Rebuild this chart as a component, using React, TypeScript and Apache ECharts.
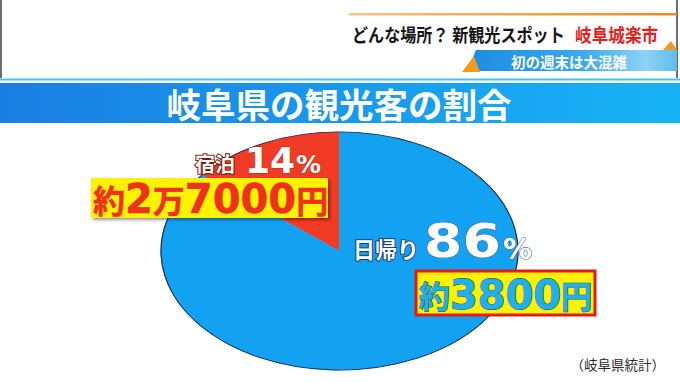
import React, { useEffect, useRef } from 'react';
import * as echarts from 'echarts';

// ---- data ----
const categories = ['宿泊', '日帰り'];
const shares = [14, 86];
const spending = ['約2万7000円', '約3800円'];
const title = '岐阜県の観光客の割合';
const headline = 'どんな場所？ 新観光スポット';
const headlinePlace = '岐阜城楽市';
const subline = '初の週末は大混雑';
const source = '（岐阜県統計）';

// ---- style / layout ----
const CJK = '"Noto Sans CJK JP", "Noto Sans CJK SC", sans-serif';
const NUM = '"DejaVu Sans", "Noto Sans CJK JP", sans-serif';
const SLICE_COLORS = ['#f23b24', '#13a1f1'];
const PIE = { cx: 339.5, cy: 251, rx: 178.5, ry: 119 };

function richAmount(s: string): string {
  return s
    .split(/(\d+)/)
    .filter(Boolean)
    .map((p) => (/^\d+$/.test(p) ? `{d|${p}}` : `{c|${p}}`))
    .join('');
}

function lin(stops: [number, string][], x2 = 1, y2 = 0) {
  return new echarts.graphic.LinearGradient(
    0, 0, x2, y2,
    stops.map(([offset, color]) => ({ offset, color }))
  );
}

export default function App() {
  const ref = useRef<HTMLDivElement>(null);

  useEffect(() => {
    if (!ref.current) return;
    const chart = echarts.init(ref.current, undefined, { renderer: 'svg' });
    const total = shares.reduce((a, b) => a + b, 0);

    const renderItem = (params: any, api: any) => {
      const i = params.dataIndex;
      const v = api.value(0);
      const before = shares.slice(0, i).reduce((a, b) => a + b, 0);
      const start = -Math.PI / 2 - ((before + v) / total) * Math.PI * 2;
      const end = -Math.PI / 2 - (before / total) * Math.PI * 2;
      const shape = { cx: 0, cy: 0, r: PIE.rx, startAngle: start, endAngle: end, clockwise: true };
      return {
        type: 'group',
        x: PIE.cx,
        y: PIE.cy,
        scaleY: PIE.ry / PIE.rx,
        children: [
          { type: 'sector', shape, style: { fill: SLICE_COLORS[i], stroke: SLICE_COLORS[i], lineWidth: 0.5 } },
          { type: 'arc', shape, style: { fill: 'none', stroke: '#1b2a52', lineWidth: 1.2, strokeNoScale: true } },
        ],
      };
    };

    const amountRich = (fill: string, stroke: string, lw: number, cjkSize: number) => ({
      c: { fontFamily: CJK, fontSize: cjkSize, fontWeight: 'bold', fill, stroke, lineWidth: lw, verticalAlign: 'middle', lineHeight: 30 },
      d: { fontFamily: NUM, fontSize: 40, fontWeight: 'bold', fill, stroke, lineWidth: lw, verticalAlign: 'middle', lineHeight: 30 },
    });

    const elements: any[] = [
      // side frame lines of upper panel
      { type: 'rect', shape: { x: 0, y: 0, width: 2, height: 78 }, style: { fill: '#6e6e6e' } },
      { type: 'rect', shape: { x: 676, y: 0, width: 2, height: 78 }, style: { fill: '#6e6e6e' } },
      // orange line of headline
      {
        type: 'rect',
        shape: { x: 349, y: 13, width: 328, height: 2.5 },
        style: { fill: lin([[0, '#f7c48a'], [0.5, '#f4a34a'], [1, '#f0891f']]) },
      },
      {
        type: 'text', x: 352, y: 34, scaleX: 0.87,
        style: { text: headline, x: 0, y: 0, fill: '#161616', font: `bold 18.5px ${CJK}`, align: 'left', verticalAlign: 'middle' },
      },
      {
        type: 'text', x: 575, y: 34, scaleX: 0.9,
        style: { text: headlinePlace, x: 0, y: 0, fill: '#e61e1c', font: `bold 18.5px ${CJK}`, align: 'left', verticalAlign: 'middle' },
      },
      // sub banner
      {
        type: 'polygon',
        shape: { points: [[476, 50], [677, 50], [677, 71], [467, 71]] },
        style: { fill: lin([[0, '#1b8be2'], [0.55, '#3aa9ee'], [0.85, '#8fd2f4'], [1, '#5dbdf0']]) },
      },
      { type: 'polygon', shape: { points: [[462, 72], [474, 56], [480, 72]] }, style: { fill: '#f39a1e' } },
      { type: 'polygon', shape: { points: [[663, 50], [671, 41], [677, 50]] }, style: { fill: '#f39a1e' } },
      {
        type: 'text', x: 569, y: 61,
        style: {
          text: subline, x: 0, y: 0, fill: '#ffffff', font: `bold 14.5px ${CJK}`, align: 'center', verticalAlign: 'middle',
          shadowColor: 'rgba(0,30,80,0.6)', shadowBlur: 2, shadowOffsetX: 1, shadowOffsetY: 1,
        },
      },
      // cyan line + title band
      { type: 'rect', shape: { x: 0, y: 78.5, width: 680, height: 2 }, style: { fill: '#42c4ef' } },
      {
        type: 'rect',
        shape: { x: 0, y: 83, width: 680, height: 40 },
        style: { fill: lin([[0, '#1a7fe2'], [1, '#17b3f6']]) },
      },
      {
        type: 'text', x: 339, y: 102.5,
        style: {
          text: title, x: 0, y: 0, fill: '#ffffff', font: `bold 34.5px ${CJK}`, align: 'center', verticalAlign: 'middle',
          shadowColor: 'rgba(0,20,70,0.55)', shadowBlur: 2, shadowOffsetX: 1, shadowOffsetY: 1,
        },
      },
      // label: overnight
      {
        type: 'text', x: 195, y: 163, z: 10,
        style: {
          text: categories[0], x: 0, y: 0, fill: '#ffffff', stroke: '#7a1c10', lineWidth: 2,
          font: `bold 20px ${CJK}`, align: 'left', verticalAlign: 'middle', lineHeight: 20,
        },
      },
      {
        type: 'text', x: 245, y: 160.5, z: 10,
        style: {
          text: String(shares[0]), x: 0, y: 0, fill: '#ffffff', stroke: '#b8321f', lineWidth: 1,
          font: `bold 36px ${NUM}`, align: 'left', verticalAlign: 'middle', lineHeight: 28,
          shadowColor: 'rgba(80,0,0,0.5)', shadowBlur: 2, shadowOffsetX: 1, shadowOffsetY: 1,
        },
      },
      {
        type: 'text', x: 296, y: 164.5, z: 10,
        style: {
          text: '%', x: 0, y: 0, fill: '#ffffff', stroke: '#b8321f', lineWidth: 1,
          font: `bold 25px ${NUM}`, align: 'left', verticalAlign: 'middle', lineHeight: 20,
        },
      },
      {
        type: 'rect', z: 10,
        shape: { x: 91, y: 178, width: 237, height: 40 },
        style: { fill: '#fbf300', shadowColor: 'rgba(0,0,0,0.4)', shadowBlur: 3, shadowOffsetX: 2, shadowOffsetY: 2 },
      },
      {
        type: 'text', x: 93, y: 199, z: 11,
        style: {
          text: richAmount(spending[0]), x: 0, y: 0, fill: '#f0301e', align: 'left', verticalAlign: 'middle',
          rich: amountRich('#f0301e', '#f0301e', 0.5, 32),
        },
      },
      // label: day trip
      {
        type: 'text', x: 353, y: 248, z: 10,
        style: {
          text: categories[1], x: 0, y: 0, fill: '#ffffff', stroke: '#1b3f78', lineWidth: 2,
          font: `bold 22px ${CJK}`, align: 'left', verticalAlign: 'middle', lineHeight: 22,
        },
      },
      {
        type: 'text', x: 424, y: 241.5, scaleX: 1.2, z: 10,
        style: {
          text: String(shares[1]), x: 0, y: 0, fill: '#ffffff', stroke: '#4a6fa5', lineWidth: 1.2,
          font: `bold 46px ${NUM}`, align: 'left', verticalAlign: 'middle', lineHeight: 36,
          shadowColor: 'rgba(0,20,70,0.45)', shadowBlur: 2, shadowOffsetX: 1, shadowOffsetY: 1,
        },
      },
      {
        type: 'text', x: 503, y: 249, z: 10,
        style: {
          text: '%', x: 0, y: 0, fill: '#ffffff', stroke: '#4a6fa5', lineWidth: 1.2,
          font: `bold 29px ${NUM}`, align: 'left', verticalAlign: 'middle', lineHeight: 24,
        },
      },
      {
        type: 'rect', z: 10,
        shape: { x: 416, y: 271, width: 179, height: 44 },
        style: { fill: '#fdf200', stroke: '#e3191b', lineWidth: 3 },
      },
      {
        type: 'text', x: 419, y: 294.5, z: 11,
        style: {
          text: richAmount(spending[1]), x: 0, y: 0, fill: '#1eb1ef', align: 'left', verticalAlign: 'middle',
          rich: amountRich('#1eb1ef', '#1a4470', 1, 31),
        },
      },
      // source
      {
        type: 'text', x: 665, y: 364, z: 10,
        style: { text: source, x: 0, y: 0, fill: '#2a2a2a', font: `13.5px ${CJK}`, align: 'right', verticalAlign: 'middle' },
      },
    ];

    chart.setOption({
      animation: false,
      backgroundColor: '#ffffff',
      graphic: { elements },
      series: [
        {
          type: 'custom',
          coordinateSystem: 'none',
          silent: true,
          z: 2,
          renderItem,
          data: shares.map((v, i) => ({ name: categories[i], value: v })),
        },
      ],
    });

    return () => chart.dispose();
  }, []);

  return (
    <div
      ref={ref}
      style={{ position: 'fixed', left: 0, top: 0, width: 680, height: 382, background: '#fff' }}
    />
  );
}
